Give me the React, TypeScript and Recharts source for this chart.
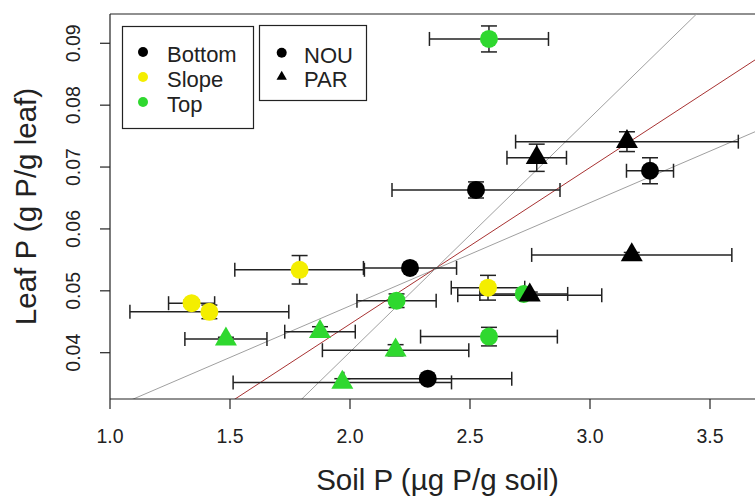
import React from 'react';
import { ScatterChart, Scatter, XAxis, YAxis, ErrorBar, ReferenceLine } from 'recharts';

// ---- data ----
const position = ['Top','Bottom','Bottom','Bottom','Bottom','Bottom','Slope','Bottom','Slope','Top','Bottom','Top','Slope','Slope','Top','Top','Top','Top','Top','Bottom'];
const site = ['NOU','PAR','PAR','NOU','NOU','NOU','NOU','PAR','NOU','NOU','PAR','NOU','NOU','NOU','PAR','PAR','NOU','PAR','PAR','NOU'];
const soilP = [2.579,3.154,2.778,3.25,2.525,2.25,1.79,3.174,2.575,2.724,2.749,2.194,1.34,1.414,1.875,1.483,2.579,2.19,1.968,2.324];
const soilPErr = [0.248,0.464,0.124,0.098,0.35,0.194,0.27,0.417,0.153,0.183,0.3,0.165,0.096,0.331,0.147,0.171,0.285,0.305,0.455,0.35];
const leafP = [0.0907,0.0741,0.0715,0.0694,0.0663,0.0537,0.0534,0.0558,0.0505,0.0495,0.0493,0.0484,0.0480,0.0466,0.0434,0.0422,0.0426,0.0404,0.0352,0.0358];
const leafPErr = [0.0021,0.0016,0.0022,0.0021,0.0013,0.0005,0.0023,0.0004,0.002,0.0006,0.0005,0.0011,0.0005,0.0011,0.0008,0.0003,0.0015,0.0009,0.0006,0.0004];

const xTicks = [1.0, 1.5, 2.0, 2.5, 3.0, 3.5];
const yTicks = [0.04, 0.05, 0.06, 0.07, 0.08, 0.09];
const xDomain = [1.0, 3.6875];
const yDomain = [0.03252, 0.09473];

// fitted lines (slope, intercept)
const fitSlope = [0.01667, 0.02529, 0.03782];
const fitIntercept = [0.01423, -0.00595, -0.03552];

const positionLegend = ['Bottom', 'Slope', 'Top'];
const siteLegend = ['NOU', 'PAR'];

// ---- styles ----
const FONT = '"Liberation Sans", Arial, sans-serif';
const posColor: Record<string, string> = { Bottom: '#000000', Slope: '#f4ee00', Top: '#2fd82f' };
const fitColor = ['#a0a0a0', '#a83232', '#a0a0a0'];
const INK = '#222222';

const data = soilP.map((x, i) => ({
  x,
  y: leafP[i],
  xErr: soilPErr[i],
  yErr: leafPErr[i],
  position: position[i],
  site: site[i],
}));

const Marker = (props: any) => {
  const { cx, cy, payload } = props;
  if (cx == null || cy == null) return <g />;
  const fill = posColor[payload.position];
  if (payload.site === 'PAR') {
    const r = 12.7;
    const hx = r * 0.866;
    const pts = `${cx},${cy - r} ${cx + hx},${cy + r / 2} ${cx - hx},${cy + r / 2}`;
    return <polygon points={pts} fill={fill} />;
  }
  return <circle cx={cx} cy={cy} r={9} fill={fill} />;
};

const NoMarker = () => <g />;

const XTick = (props: any) => {
  const { x, payload } = props;
  return (
    <text x={x} y={443} textAnchor="middle" fontSize={19.5} fontFamily={FONT} fill={INK}>
      {Number(payload.value).toFixed(1)}
    </text>
  );
};

const YTick = (props: any) => {
  const { y, payload } = props;
  return (
    <text x={80} y={y} transform={`rotate(-90 80 ${y})`} textAnchor="middle" fontSize={19.5} fontFamily={FONT} fill={INK}>
      {Number(payload.value).toFixed(2)}
    </text>
  );
};

export default function App() {
  return (
    <div style={{ position: 'absolute', left: 0, top: 0, width: 755, height: 496, background: '#fff' }}>
      <ScatterChart width={755} height={496} margin={{ top: 14, right: 0, bottom: 0, left: 0 }}>
        <XAxis
          type="number"
          dataKey="x"
          domain={xDomain}
          ticks={xTicks}
          allowDataOverflow
          height={97}
          tickSize={10}
          tick={<XTick />}
          axisLine={{ stroke: INK, strokeWidth: 1.2 }}
          tickLine={{ stroke: INK, strokeWidth: 1.2 }}
        />
        <YAxis
          type="number"
          dataKey="y"
          domain={yDomain}
          ticks={yTicks}
          allowDataOverflow
          width={110}
          tickSize={10}
          tick={<YTick />}
          axisLine={{ stroke: INK, strokeWidth: 1.2 }}
          tickLine={{ stroke: INK, strokeWidth: 1.2 }}
        />
        <ReferenceLine y={yDomain[1]} stroke={INK} strokeWidth={1.2} />
        {fitSlope.map((m, i) => (
          <ReferenceLine
            key={`fit-${i}`}
            segment={[
              { x: xDomain[0], y: fitIntercept[i] + m * xDomain[0] },
              { x: xDomain[1], y: fitIntercept[i] + m * xDomain[1] },
            ]}
            stroke={fitColor[i]}
            strokeWidth={1}
            ifOverflow="hidden"
          />
        ))}
        <Scatter data={data} shape={<Marker />} isAnimationActive={false} />
        <Scatter data={data} shape={<NoMarker />} isAnimationActive={false}>
          <ErrorBar dataKey="xErr" direction="x" width={7} stroke={INK} strokeWidth={1.5} />
          <ErrorBar dataKey="yErr" direction="y" width={8} stroke={INK} strokeWidth={1.5} />
        </Scatter>
      </ScatterChart>
      <svg
        width={755}
        height={496}
        style={{ position: 'absolute', left: 0, top: 0, pointerEvents: 'none' }}
        fontFamily={FONT}
      >
        <text x={437.5} y={490} textAnchor="middle" fontSize={29.5} fill={INK}>
          Soil P (µg P/g soil)
        </text>
        <text x={36} y={206.5} transform="rotate(-90 36 206.5)" textAnchor="middle" fontSize={29.5} fill={INK}>
          Leaf P (g P/g leaf)
        </text>
        <rect x={122.5} y={26.5} width={131} height={102} fill="#fff" stroke={INK} strokeWidth={1.2} />
        {positionLegend.map((p, i) => (
          <g key={p}>
            <circle cx={143} cy={52 + i * 25} r={5} fill={posColor[p]} />
            <text x={167} y={62 + i * 25} fontSize={22} fill={INK}>{p}</text>
          </g>
        ))}
        <rect x={259.5} y={25.5} width={107} height={75} fill="#fff" stroke={INK} strokeWidth={1.2} />
        {siteLegend.map((s, i) => {
          const cy = 52.7 + i * 24;
          return (
            <g key={s}>
              {s === 'NOU' ? (
                <circle cx={281.7} cy={cy} r={5} fill="#000" />
              ) : (
                <polygon points={`${281.7},${cy - 6} ${281.7 + 5.2},${cy + 3} ${281.7 - 5.2},${cy + 3}`} fill="#000" />
              )}
              <text x={304} y={63.3 + i * 24} fontSize={22} fill={INK}>{s}</text>
            </g>
          );
        })}
      </svg>
    </div>
  );
}
